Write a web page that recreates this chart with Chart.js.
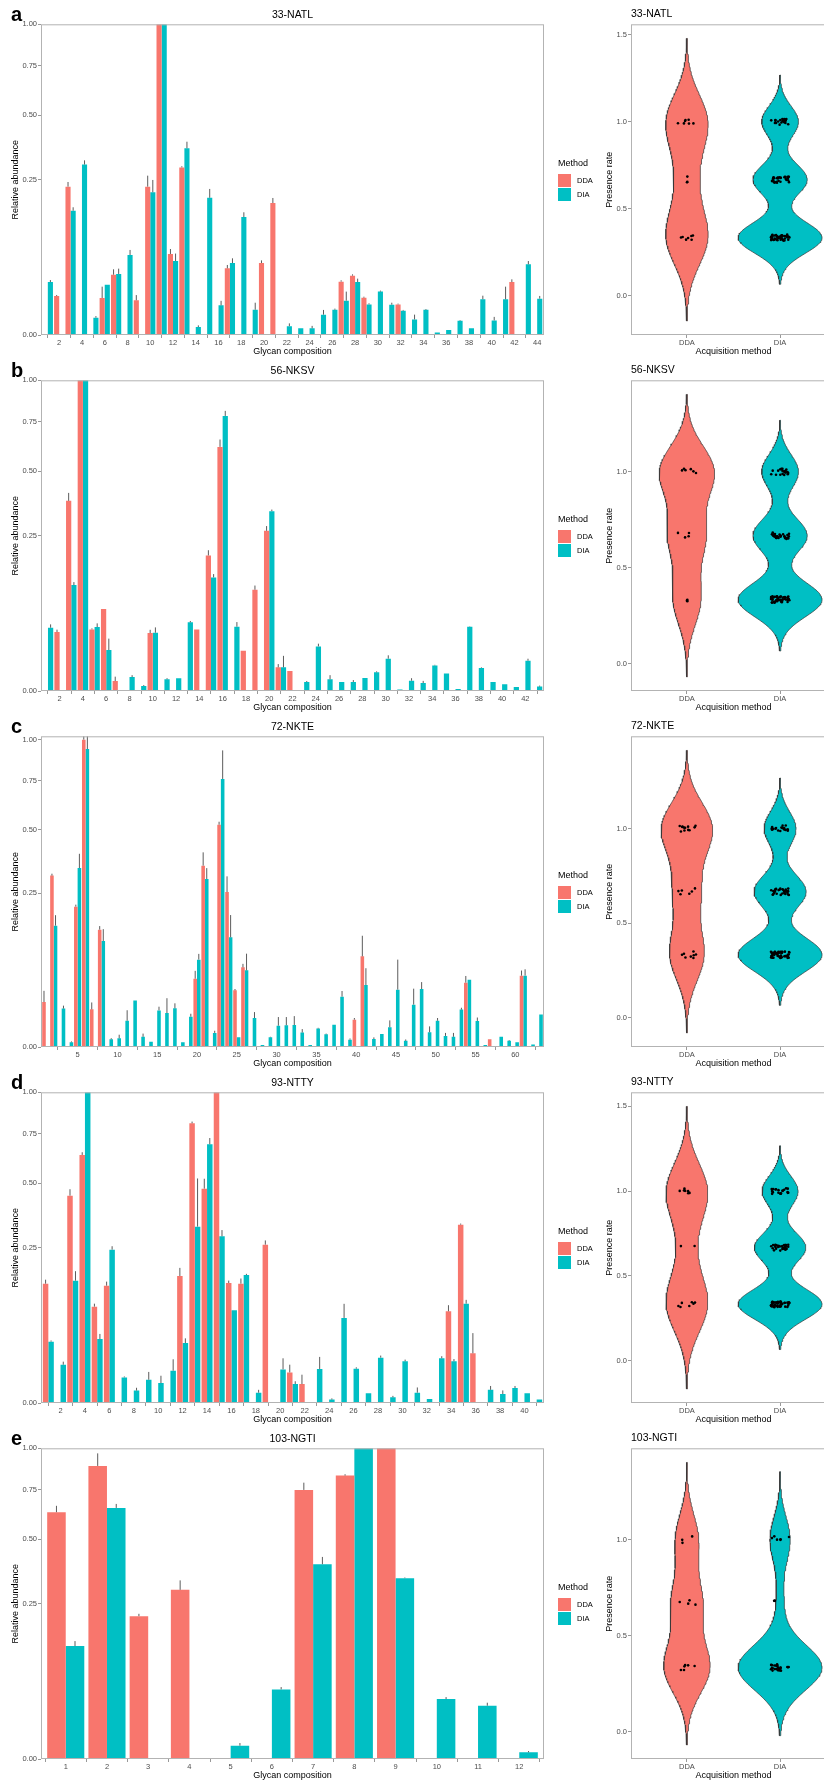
<!DOCTYPE html>
<html lang="en">
<head>
<meta charset="UTF-8">
<title>Glycan composition abundance and presence rate</title>
<script src="https://cdn.jsdelivr.net/npm/chart.js"></script>
<style>
    body {
        margin: 0;
        width: 824px;
        height: 1783px;
        overflow: hidden;
        position: relative;
        background: #fff;
        font-family: "Liberation Sans", Arial, sans-serif;
    }
    .row { position: absolute; left: 0; width: 850px; height: 362px; }
    .bar-box { position: absolute; left: 0; top: 0; width: 547px; height: 362px; }
    .violin-box { position: absolute; left: 560px; top: 0; width: 290px; height: 362px; }
    .tag { position: absolute; left: 11px; top: 4px; font-size: 20px; line-height: 20px; font-weight: bold; color: #000; }
    .legend { position: absolute; left: 558px; top: 158px; color: #000; font-size: 7.5px; }
    .legend .ttl { font-size: 9px; line-height: 11px; margin-bottom: 4px; }
    .legend .item { height: 14px; display: flex; align-items: center; }
    .legend .key { width: 13px; height: 13px; margin-right: 6px; }
</style>
</head>
<body>

<script>
// ---- data ----
const siteNames = ['33-NATL', '56-NKSV', '72-NKTE', '93-NTTY', '103-NGTI'];
const panelTags = ['a', 'b', 'c', 'd', 'e'];
const methods = ['DDA', 'DIA'];
const presenceLevels = [1 / 3, 2 / 3, 1];

// 33-NATL
const ddaA = [
    null, 0.0158, 0.228, null, null, 0.0142, 0.0377, null, 0.0125, 0.228,
    1, 0.068, 0.291, null, null, null, 0.046, null, null, 0.0537,
    0.1805, null, null, null, null, null, 0.0295, 0.0365, 0.0144, null,
    null, 0.0097, null, null, null, null, null, null, null, null,
    null, 0.029, null, null];
const ddaSdA = [
    0, 0.0008, 0.0145, 0, 0, 0.010, 0.007, 0, 0.004, 0.035,
    0, 0.0086, 0.004, 0, 0, 0, 0.0048, 0, 0, 0.004,
    0.014, 0, 0, 0, 0, 0, 0.0015, 0.0016, 0.0008, 0,
    0, 0.0005, 0, 0, 0, 0, 0, 0, 0, 0,
    0, 0.0031, 0, 0];
const diaA = [
    0.029, null, 0.160, 0.301, 0.0031, 0.0262, 0.0386, 0.0663, null, 0.211,
    1, 0.0567, 0.361, 0.00066, 0.195, 0.0091, 0.0537, 0.144, 0.0066, null,
    null, 0.0008, 0.00046, 0.00046, 0.0043, 0.0066, 0.0122, 0.029, 0.0097, 0.0195,
    0.0095, 0.0061, 0.0025, 0.0066, 0.00007, 0.00026, 0.0021, 0.00046, 0.0132, 0.0022,
    0.0132, null, 0.0517, 0.0137];
const diaSdA = [
    0.0023, 0, 0.009, 0.015, 0.0006, 0, 0.007, 0.0086, 0, 0.038,
    0, 0.012, 0.026, 0.0003, 0.026, 0.003, 0.0072, 0.012, 0.0042, 0,
    0, 0.0006, 0, 0.0004, 0.0022, 0.0006, 0.0073, 0.0039, 0.0007, 0.0009,
    0.0013, 0.0004, 0.0018, 0.0004, 0, 0, 0.0002, 0, 0.0028, 0.0012,
    0.011, 0, 0.005, 0.0021];
const ticksA = [2, 4, 6, 8, 10, 12, 14, 16, 18, 20, 22, 24, 26, 28, 30, 32, 34, 36, 38, 40, 42, 44];

// 56-NKSV
const ddaB = [
    null, 0.036, 0.3745, 1, 0.0393, 0.0695, 0.00103, null, null, 0.0348,
    null, null, null, 0.0393, 0.1903, 0.6172, null, 0.0168, 0.1062, 0.2658,
    0.0058, 0.0041, null, null, null, null, null, null, null, null,
    null, null, null, null, null, null, null, null, null, null,
    null, null, null];
const ddaSdB = [
    0, 0.003, 0.032, 0, 0.0013, 0, 0.0011, 0, 0, 0.004,
    0, 0, 0, 0, 0.015, 0.038, 0, 0, 0.009, 0.016,
    0.0017, 0, 0, 0, 0, 0, 0, 0, 0, 0,
    0, 0, 0, 0, 0, 0, 0, 0, 0, 0,
    0, 0, 0];
const diaB = [
    0.0415, null, 0.1162, 1, 0.0424, 0.0174, null, 0.002, 0.00026, 0.0352,
    0.0014, 0.00166, 0.0488, null, 0.1336, 0.7838, 0.0428, null, null, 0.335,
    0.0058, null, 0.00084, 0.0206, 0.0014, 0.00084, 0.00084, 0.00175, 0.0036, 0.0108,
    0.00002, 0.0011, 0.00066, 0.0068, 0.0032, 0.00004, 0.0428, 0.0055, 0.00084, 0.00046,
    0.00017, 0.0095, 0.0002];
const diaSdB = [
    0.0045, 0, 0.0066, 0, 0.005, 0.011, 0, 0.0006, 0.0001, 0.0067,
    0.0003, 0, 0.002, 0, 0.008, 0.029, 0.0064, 0, 0, 0.006,
    0.007, 0, 0.0002, 0.0026, 0.0012, 0, 0.0004, 0, 0.0004, 0.0024,
    0, 0.0006, 0.0004, 0.0003, 0, 0, 0.0005, 0.0003, 0, 0,
    0, 0.0013, 0.0001];
const ticksB = [2, 4, 6, 8, 10, 12, 14, 16, 18, 20, 22, 24, 26, 28, 30, 32, 34, 36, 38, 40, 42];

// 72-NKTE
const ddaC = [
    0.0214, 0.311, null, null, 0.2085, 1, 0.015, 0.1458, null, null,
    null, null, null, null, null, null, null, null, null, 0.0494,
    0.3481, null, 0.5233, 0.2543, 0.034, 0.0672, null, null, null, null,
    null, null, null, null, null, null, null, null, null, 0.0079,
    0.087, null, null, null, null, null, null, null, null, null,
    null, null, null, 0.0438, null, null, 0.00062, null, null, null,
    0.0539, null, null];
const ddaSdC = [
    0.012, 0.007, 0, 0, 0.006, 0.022, 0.006, 0.009, 0, 0,
    0, 0, 0, 0, 0, 0, 0, 0, 0, 0.012,
    0.053, 0, 0.014, 0.054, 0.0016, 0.006, 0, 0, 0, 0,
    0, 0, 0, 0, 0, 0, 0, 0, 0, 0.001,
    0.044, 0, 0, 0, 0, 0, 0, 0, 0, 0,
    0, 0, 0, 0.0096, 0, 0, 0, 0, 0, 0,
    0.008, 0, 0];
const diaC = [
    null, 0.1559, 0.0156, 0.00023, 0.3392, 0.940, null, 0.119, 0.00062, 0.0008,
    0.0073, 0.023, 0.0011, 0.0003, 0.0142, 0.0122, 0.0158, 0.00023, 0.0097, 0.0808,
    0.2988, 0.0021, 0.7604, 0.1273, 0.001, 0.0622, 0.0089, 0.00004, 0.001, 0.0048,
    0.005, 0.0051, 0.0022, 0.00004, 0.0036, 0.0017, 0.0053, 0.0268, 0.00057, null,
    0.0407, 0.00068, 0.0018, 0.0041, 0.0348, 0.0004, 0.019, 0.0356, 0.0023, 0.0073,
    0.0013, 0.0011, 0.0148, 0.048, 0.0072, 0.00004, null, 0.0011, 0.0004, 0.00023,
    0.0539, 0.00006, 0.0111];
const diaSdC = [
    0, 0.028, 0.0025, 0.0001, 0.056, 0.082, 0, 0.028, 0.0002, 0.0008,
    0.007, 0, 0.0008, 0, 0.003, 0.013, 0.0044, 0, 0.002, 0.011,
    0.040, 0.0007, 0.171, 0.057, 0, 0.030, 0.004, 0, 0.0001, 0.0047,
    0.0045, 0.005, 0.0012, 0, 0.0003, 0.0002, 0, 0.0064, 0.0002, 0,
    0.025, 0.0003, 0, 0.0034, 0.046, 0.0002, 0.017, 0.009, 0.0022, 0.0016,
    0.0008, 0.001, 0.0015, 0, 0.002, 0, 0, 0, 0.0001, 0,
    0.01, 0, 0];
const ticksC = [5, 10, 15, 20, 25, 30, 35, 40, 45, 50, 55, 60];

// 93-NTTY
const ddaD = [
    0.1475, null, 0.4454, 0.6373, 0.0962, 0.1426, null, null, null, null,
    null, 0.1671, 0.8104, 0.476, 1, 0.1492, 0.1475, null, 0.2598, null,
    0.0097, 0.0037, null, null, null, null, null, null, null, null,
    null, null, null, 0.0871, 0.3295, 0.0256, null, null, null, null,
    null];
const ddaSdD = [
    0.010, 0, 0.028, 0.014, 0.006, 0.010, 0, 0, 0, 0,
    0, 0.022, 0.01, 0.045, 0, 0.006, 0.013, 0, 0.014, 0,
    0.0055, 0.0046, 0, 0, 0, 0, 0, 0, 0, 0,
    0, 0, 0, 0.012, 0.004, 0.025, 0, 0, 0, 0,
    0];
const diaD = [
    0.039, 0.0152, 0.155, 1, 0.0424, 0.2436, 0.0068, 0.0016, 0.0056, 0.0041,
    0.0108, 0.0373, 0.3222, 0.6933, 0.2878, 0.089, 0.1698, 0.0011, null, 0.0117,
    0.0037, null, 0.012, 0.00012, 0.0749, 0.0122, 0.001, 0.0213, 0.00033, 0.018,
    0.0011, 0.00017, 0.0207, 0.018, 0.1022, null, 0.0018, 0.00084, 0.0023, 0.001,
    0.00012];
const diaSdD = [
    0.0015, 0.0025, 0.025, 0, 0.007, 0.011, 0.0005, 0.0008, 0.0044, 0.0036,
    0.009, 0.006, 0.20, 0.034, 0.022, 0, 0.003, 0.0007, 0, 0.009,
    0.0012, 0, 0.01, 0.0001, 0.027, 0.001, 0, 0.002, 0.0002, 0.0015,
    0.0014, 0, 0.002, 0.002, 0.008, 0, 0.0012, 0.0008, 0.0007, 0,
    0];
const ticksD = [2, 4, 6, 8, 10, 12, 14, 16, 18, 20, 22, 24, 26, 28, 30, 32, 34, 36, 38, 40];

// 103-NGTI
const ddaE = [0.631, 0.8896, 0.2114, 0.2965, null, null, 0.750, 0.832, 1, null, null, null];
const ddaSdE = [0.033, 0.078, 0.007, 0.034, 0, 0, 0.041, 0.008, 0, 0, 0, 0];
const diaE = [0.132, 0.653, null, null, 0.00184, 0.0502, 0.393, 1, 0.3387, 0.0372, 0.0294, 0.00046];
const diaSdE = [0.012, 0.021, 0, 0, 0.0008, 0.0034, 0.030, 0, 0.0025, 0.0025, 0.0034, 0.0002];
const ticksE = [1, 2, 3, 4, 5, 6, 7, 8, 9, 10, 11, 12];

// presence rate: number of compositions seen in 1, 2 or 3 of 3 runs
const presenceDDA = [[7, 3, 7], [3, 4, 6], [8, 6, 12], [7, 2, 7], [6, 4, 3]];
const presenceDIA = [[48, 31, 21], [48, 31, 21], [50, 31, 19], [49, 30, 21], [25, 2, 6]];

const yTicksBar = [0, 0.25, 0.5, 0.75, 1];
const yTicksViolin = [0, 0.5, 1, 1.5];

// ---- styling ----
const COLORS = ['#F8766D', '#00BFC4'];
const FONT = '"Liberation Sans", Arial, sans-serif';
Chart.defaults.font.family = FONT;
Chart.defaults.color = '#4D4D4D';

// ggplot-like square-root axis
class SqrtScale extends Chart.LinearScale {
    static id = 'sqrt';
    static defaults = Chart.LinearScale.defaults;
    getPixelForValue(value) {
        if (value === null || value === undefined) return NaN;
        const frac = Math.max(0, (value - this.min) / (this.max - this.min));
        return this.getPixelForDecimal(Math.sqrt(frac));
    }
    getValueForPixel(pixel) {
        const d = this.getDecimalForPixel(pixel);
        return this.min + d * d * (this.max - this.min);
    }
}
Chart.register(SqrtScale);

const panelBorder = {
    id: 'panelBorder',
    afterDatasetsDraw(chart) {
        const {ctx, chartArea: a} = chart;
        ctx.save();
        ctx.strokeStyle = '#B3B3B3';
        ctx.lineWidth = 1;
        ctx.strokeRect(a.left + 0.5, a.top + 0.5, a.width - 1, a.height - 1);
        ctx.restore();
    }
};

// left-aligned panel title (ggplot default)
const cornerTitle = {
    id: 'cornerTitle',
    afterDraw(chart, args, opts) {
        const {ctx, chartArea: a} = chart;
        ctx.save();
        ctx.fillStyle = '#000';
        ctx.font = '10.5px ' + FONT;
        ctx.textAlign = 'left';
        ctx.textBaseline = 'middle';
        ctx.fillText(opts.text, a.left, a.top - 10.5);
        ctx.restore();
    }
};

const errorBars = {
    id: 'errorBars',
    afterDatasetsDraw(chart) {
        const {ctx} = chart;
        const y = chart.scales.y;
        ctx.save();
        ctx.strokeStyle = '#5c5c5c';
        ctx.lineWidth = 1;
        chart.data.datasets.forEach((ds, i) => {
            chart.getDatasetMeta(i).data.forEach((bar, j) => {
                const pt = ds.data[j];
                if (!pt.sd) return;
                ctx.beginPath();
                ctx.moveTo(bar.x, y.getPixelForValue(pt.y));
                ctx.lineTo(bar.x, y.getPixelForValue(pt.y + pt.sd));
                ctx.stroke();
            });
        });
        ctx.restore();
    }
};

const tickGrid = {drawOnChartArea: false, drawTicks: true, tickLength: 3, color: '#7f7f7f', lineWidth: 0.8};
const tickFont = {size: 7.5};
const axisTitle = text => ({display: true, text: text, color: '#000', font: {size: 9}});

function barChart(canvas, p) {
    const n = p.dda.length;
    const points = (vals, sds) => vals
        .map((v, i) => ({x: i + 1, y: v, sd: sds[i]}))
        .filter(pt => pt.y !== null);
    let top = 1;
    [[p.dda, p.ddaSd], [p.dia, p.diaSd]].forEach(([vals, sds]) => {
        vals.forEach((v, i) => { if (v !== null) top = Math.max(top, v + sds[i]); });
    });

    new Chart(canvas, {
        type: 'bar',
        data: {
            datasets: [
                {label: methods[0], data: points(p.dda, p.ddaSd), backgroundColor: COLORS[0],
                 categoryPercentage: 0.9, barPercentage: 1},
                {label: methods[1], data: points(p.dia, p.diaSd), backgroundColor: COLORS[1],
                 categoryPercentage: 0.9, barPercentage: 1}
            ]
        },
        options: {
            animation: false,
            events: [],
            responsive: true,
            maintainAspectRatio: false,
            layout: {padding: {left: 0, right: 3, top: 0, bottom: 0}},
            plugins: {
                legend: {display: false},
                tooltip: {enabled: false},
                title: {display: true, text: p.site, fullSize: false, color: '#000',
                        font: {size: 10.5, weight: 'normal'}, padding: {top: 8.5, bottom: 3.2}}
            },
            scales: {
                x: {
                    type: 'linear', min: 0.4, max: n + 0.6, offset: false,
                    grid: tickGrid, border: {display: false},
                    ticks: {font: tickFont, padding: 0, autoSkip: false, maxRotation: 0,
                            callback: v => String(v)},
                    afterBuildTicks: s => { s.ticks = p.ticks.map(v => ({value: v})); },
                    afterFit: s => { s.height = 27; s.paddingLeft = 0; s.paddingRight = 0; },
                    title: Object.assign(axisTitle('Glycan composition'), {padding: {top: 0, bottom: 4.6}})
                },
                y: {
                    type: 'sqrt', min: 0, max: top,
                    grid: tickGrid, border: {display: false},
                    ticks: {font: tickFont, padding: 1, autoSkip: false, callback: v => v.toFixed(2)},
                    afterBuildTicks: s => { s.ticks = yTicksBar.filter(v => v <= s.max).map(v => ({value: v})); },
                    afterFit: s => { s.width = 41; s.paddingTop = 0; s.paddingBottom = 0; },
                    title: Object.assign(axisTitle('Relative abundance'), {padding: {top: 10.6, bottom: 0}})
                }
            }
        },
        plugins: [errorBars, panelBorder]
    });
}

// R's bw.nrd0 + gaussian kernel density, as used by geom_violin
function bwNrd0(x) {
    const n = x.length;
    const mean = x.reduce((a, b) => a + b, 0) / n;
    const sd = Math.sqrt(x.reduce((a, b) => a + (b - mean) ** 2, 0) / (n - 1));
    const s = [...x].sort((a, b) => a - b);
    const q = p => {
        const h = (n - 1) * p, i = Math.floor(h);
        return s[i] + (h - i) * (s[Math.min(i + 1, n - 1)] - s[i]);
    };
    let lo = Math.min(sd, (q(0.75) - q(0.25)) / 1.34);
    if (!lo) lo = sd || Math.abs(s[0]) || 1;
    return 0.9 * lo * Math.pow(n, -0.2);
}

function density(x) {
    const bw = bwNrd0(x);
    const lo = Math.min(...x) - 3 * bw, hi = Math.max(...x) + 3 * bw;
    const ys = [], ds = [];
    for (let k = 0; k <= 200; k++) {
        const y = lo + (hi - lo) * k / 200;
        let d = 0;
        x.forEach(v => { const z = (y - v) / bw; d += Math.exp(-0.5 * z * z); });
        ys.push(y);
        ds.push(d / (x.length * bw * Math.sqrt(2 * Math.PI)));
    }
    return {lo, hi, ys, ds};
}

// fixed jitter offsets in [-0.5, 0.5) (display only, like geom_jitter)
const jitter = k => {
    const s = Math.sin(k * 12.9898 + 78.233) * 43758.5453;
    return s - Math.floor(s) - 0.5;
};

function violinChart(canvas, idx) {
    const groups = [presenceDDA[idx], presenceDIA[idx]].map(counts =>
        counts.flatMap((c, j) => Array(c).fill(presenceLevels[j])));
    const dens = groups.map(density);
    const maxD = Math.max(...dens.flatMap(d => d.ds));
    const lo = Math.min(...dens.map(d => d.lo));
    const hi = Math.max(...dens.map(d => d.hi));
    const pad = 0.05 * (hi - lo);

    const datasets = [];
    groups.forEach((vals, g) => {
        const x0 = g + 1;
        const pts = vals.map((v, k) => ({
            x: x0 + jitter(k + 100 * g + 7 * idx) * 0.2,
            y: v + jitter(k * 3 + 511 + 100 * g + 13 * idx) * 0.035
        }));
        datasets.push({data: pts, order: 0, pointRadius: 1.3, pointBackgroundColor: '#000',
                       pointBorderWidth: 0, showLine: false});
    });
    dens.forEach((d, g) => {
        const x0 = g + 1;
        const right = d.ys.map((y, k) => ({x: x0 + 0.45 * d.ds[k] / maxD, y}));
        const left = d.ys.map((y, k) => ({x: x0 - 0.45 * d.ds[k] / maxD, y})).reverse();
        const shape = right.concat(left, [right[0]]);
        datasets.push({data: shape, order: 1, showLine: true, pointRadius: 0,
                       borderColor: '#333', borderWidth: 0.7, backgroundColor: COLORS[g],
                       fill: 'shape', tension: 0});
    });

    new Chart(canvas, {
        type: 'scatter',
        data: {datasets},
        options: {
            animation: false,
            events: [],
            responsive: true,
            maintainAspectRatio: false,
            layout: {padding: {left: 0, right: 14, top: 24.3, bottom: 0}},
            plugins: {
                legend: {display: false},
                tooltip: {enabled: false},
                title: {display: false},
                cornerTitle: {text: siteNames[idx]}
            },
            scales: {
                x: {
                    type: 'linear', min: 0.4, max: 2.6,
                    grid: tickGrid, border: {display: false},
                    ticks: {font: tickFont, padding: 0, autoSkip: false, maxRotation: 0,
                            callback: v => methods[v - 1]},
                    afterBuildTicks: s => { s.ticks = [1, 2].map(v => ({value: v})); },
                    afterFit: s => { s.height = 27; s.paddingLeft = 0; s.paddingRight = 0; },
                    title: Object.assign(axisTitle('Acquisition method'), {padding: {top: 0, bottom: 4.6}})
                },
                y: {
                    type: 'linear', min: lo - pad, max: hi + pad,
                    grid: tickGrid, border: {display: false},
                    ticks: {font: tickFont, padding: 1, autoSkip: false, callback: v => v.toFixed(1)},
                    afterBuildTicks: s => {
                        s.ticks = yTicksViolin.filter(v => v >= s.min && v <= s.max).map(v => ({value: v}));
                    },
                    afterFit: s => { s.width = 71; s.paddingTop = 0; s.paddingBottom = 0; },
                    title: Object.assign(axisTitle('Presence rate'), {padding: {top: 44.6, bottom: 0}})
                }
            }
        },
        plugins: [panelBorder, cornerTitle]
    });
}

// ---- layout ----
const panels = [
    {dda: ddaA, ddaSd: ddaSdA, dia: diaA, diaSd: diaSdA, ticks: ticksA},
    {dda: ddaB, ddaSd: ddaSdB, dia: diaB, diaSd: diaSdB, ticks: ticksB},
    {dda: ddaC, ddaSd: ddaSdC, dia: diaC, diaSd: diaSdC, ticks: ticksC},
    {dda: ddaD, ddaSd: ddaSdD, dia: diaD, diaSd: diaSdD, ticks: ticksD},
    {dda: ddaE, ddaSd: ddaSdE, dia: diaE, diaSd: diaSdE, ticks: ticksE}
];

panels.forEach((p, i) => {
    p.site = siteNames[i];
    const row = document.createElement('div');
    row.className = 'row';
    row.style.top = (356 * i) + 'px';
    row.innerHTML =
        '<div class="bar-box"><canvas></canvas></div>' +
        '<div class="violin-box"><canvas></canvas></div>' +
        '<div class="tag">' + panelTags[i] + '</div>' +
        '<div class="legend"><div class="ttl">Method</div>' +
        methods.map((m, k) => '<div class="item"><span class="key" style="background:' + COLORS[k] +
            '"></span>' + m + '</div>').join('') + '</div>';
    document.body.appendChild(row);
    const canvases = row.querySelectorAll('canvas');
    barChart(canvases[0], p);
    violinChart(canvases[1], i);
});
</script>

</body>
</html>
